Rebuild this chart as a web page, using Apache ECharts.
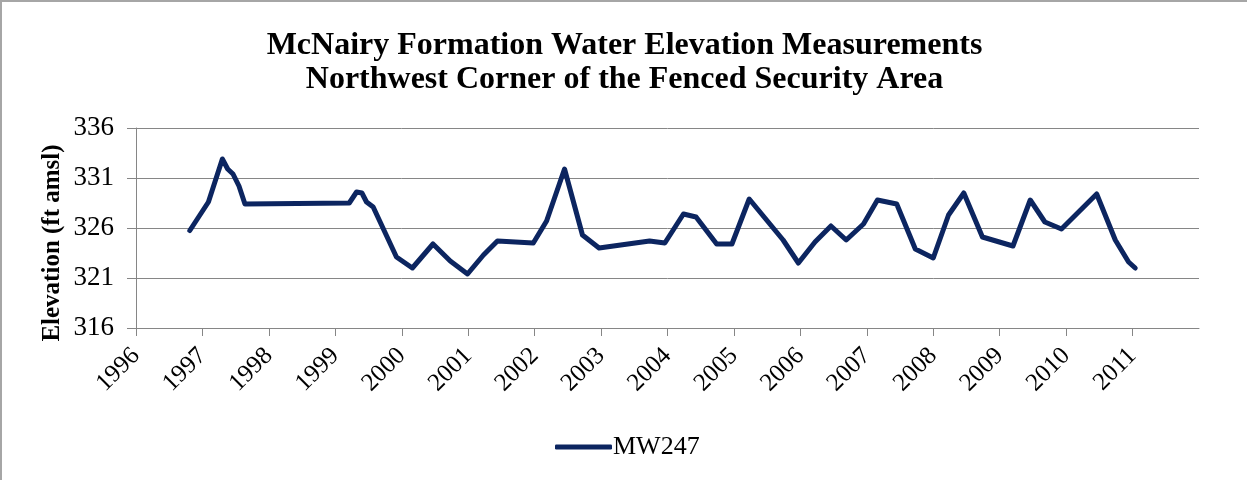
<!DOCTYPE html>
<html><head><meta charset="utf-8">
<script src="https://cdn.jsdelivr.net/npm/echarts@6/dist/echarts.min.js"></script>
<style>
html,body{margin:0;padding:0;background:#fff;}
#c{width:1247px;height:480px;box-sizing:border-box;border-top:2px solid #a6a6a6;border-left:2px solid #a6a6a6;}
</style></head>
<body><div id="c"></div>
<script>
var titleLines = ['McNairy Formation Water Elevation Measurements', 'Northwest Corner of the Fenced Security Area'];
var seriesName = 'MW247';
var yAxisName = 'Elevation (ft amsl)';
var years = [1996.81, 1997.09, 1997.30, 1997.38, 1997.46, 1997.55, 1997.64, 1999.21, 1999.32, 1999.40, 1999.47, 1999.57, 1999.92, 2000.16, 2000.47, 2000.73, 2000.99, 2001.23, 2001.44, 2001.98, 2002.18, 2002.45, 2002.72, 2002.97, 2003.73, 2003.96, 2004.24, 2004.43, 2004.74, 2004.97, 2005.23, 2005.74, 2005.97, 2006.22, 2006.46, 2006.69, 2006.95, 2007.16, 2007.45, 2007.73, 2008.00, 2008.23, 2008.46, 2008.74, 2009.20, 2009.46, 2009.68, 2009.93, 2010.46, 2010.74, 2010.94, 2011.04];
var elevations = [325.75, 328.6, 332.9, 331.9, 331.4, 330.2, 328.4, 328.5, 329.6, 329.5, 328.6, 328.1, 323.1, 322.0, 324.4, 322.7, 321.4, 323.3, 324.7, 324.5, 326.7, 331.9, 325.3, 324.0, 324.7, 324.5, 327.4, 327.1, 324.4, 324.4, 328.9, 324.8, 322.5, 324.6, 326.2, 324.8, 326.4, 328.8, 328.4, 323.9, 323.0, 327.3, 329.5, 325.1, 324.2, 328.8, 326.6, 325.9, 329.4, 324.8, 322.6, 322.0];
var xMin = 1996, xMax = 2012, xStep = 1;
var yMin = 316, yMax = 336, yStep = 5;

var lineColor = '#0c2560';
var serif = '"Liberation Serif", "Times New Roman", serif';
var chart = echarts.init(document.getElementById('c'));
chart.setOption({
  animation: false,
  title: {
    text: titleLines.join('\n'),
    left: 'center', top: 22,
    textStyle: {fontFamily: serif, fontSize: 32, fontWeight: 'bold', color: '#000', lineHeight: 34}
  },
  legend: {
    data: [seriesName],
    left: 548, top: 427,
    icon: 'roundRect', itemWidth: 57, itemHeight: 5, itemGap: 2,
    textStyle: {fontFamily: serif, fontSize: 26, color: '#000', padding: [0,0,0,-4]}
  },
  grid: {left: 134, right: 48, top: 126, bottom: 152},
  graphic: [{
    type: 'text', x: 51, y: 241, rotation: Math.PI / 2,
    style: {text: yAxisName, fontFamily: serif, fontSize: 25, fontWeight: 'bold', fill: '#000',
      align: 'center', verticalAlign: 'middle'}
  }],
  xAxis: {
    type: 'value', min: xMin, max: xMax, interval: xStep,
    axisLine: {lineStyle: {color: '#868686', width: 1}},
    axisTick: {show: true, length: 8, lineStyle: {color: '#868686'}},
    splitLine: {show: false},
    axisLabel: {rotate: 45, margin: 24, showMaxLabel: false, fontFamily: serif, fontSize: 25, color: '#000',
      formatter: function(v){ return String(v); }}
  },
  yAxis: {
    type: 'value', min: yMin, max: yMax, interval: yStep,
    axisLine: {show: true, lineStyle: {color: '#868686', width: 1}},
    axisTick: {show: true, length: 9, lineStyle: {color: '#868686'}},
    splitLine: {show: true, lineStyle: {color: '#868686', width: 1}},
    axisLabel: {margin: 22, fontFamily: serif, fontSize: 27, color: '#000'}
  },
  series: [{
    name: seriesName, type: 'line',
    data: years.map(function(y, i){ return [y, elevations[i]]; }),
    showSymbol: false, symbol: 'none',
    lineStyle: {color: lineColor, width: 5, cap: 'round', join: 'round'},
    itemStyle: {color: lineColor}
  }]
});
</script></body></html>
